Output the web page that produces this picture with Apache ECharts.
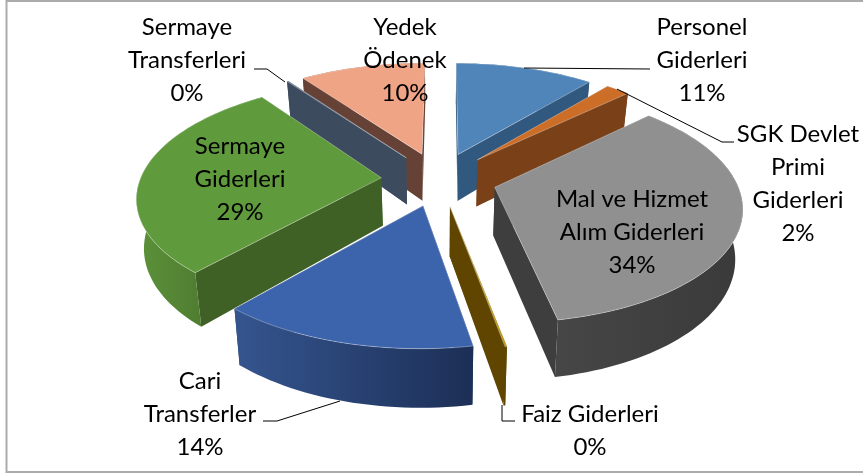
<!DOCTYPE html>
<html>
<head>
<meta charset="utf-8">
<style>
  html, body { margin: 0; padding: 0; background: #fff; }
  #chart { width: 863px; height: 474px; }
</style>
<script src="https://cdn.jsdelivr.net/npm/echarts@6/dist/echarts.min.js"></script>
</head>
<body>
<div id="chart"></div>
<script>
// slices, clockwise from the first slice angle
const categories = ['Personel\nGiderleri', 'SGK Devlet\nPrimi\nGiderleri', 'Mal ve Hizmet\nAlım Giderleri', 'Faiz Giderleri', 'Cari\nTransferler', 'Sermaye\nGiderleri', 'Sermaye\nTransferleri', 'Yedek\nÖdenek'];
const values = [11, 1.9, 34.4, 0.1, 14.4, 28.8, 0.1, 10];

const topColors = ['#5085BA', '#CC6D28', '#909090', '#B98C00', '#3C64AC', '#5F9A3C', '#4A5D75', '#F0A486'];
const wallColors = ['#31587E', '#7A4118', '#3E3E3E', '#5F4500', '#1D3058', '#3F6126', '#3D4B5E', '#654235'];
const outerColors = [['#31587E', '#31587E'], ['#7A4118', '#7A4118'], ['#464646', '#3A3A3A'], ['#5F4500', '#5F4500'], ['#35558F', '#1C2F56'], ['#5C9239', '#44692A'], ['#3D4B5E', '#3D4B5E'], ['#654235', '#654235']];

// label centre x, first line centre y
const labelPos = [[702, 27], [798, 134], [632, 199], [590, 414], [200, 381], [240, 146], [187, 27], [405, 27]];
const lineHeight = 33;

const leaders = [
  [[524, 68], [650, 69]],
  [[617, 89], [722, 142], [734, 142]],
  [[502, 405], [502, 421], [515, 421]],
  [[340, 401], [277, 421], [263, 421]],
  [[254, 69], [267, 69], [285, 82]]
];

// projection of the tilted pie
const cx = 439, cy = 179;
const rx = 241, ry = 112;
const persp = 0.152;
const explode = 0.24;
const depth = 48;
const bottomShrink = 0.975;
const firstAngle = 0.2 * Math.PI / 180;

const total = values.reduce((a, b) => a + b, 0);

function project(X, Y, down) {
  const s = 1 / (1 - persp * Y);
  let x = cx + rx * X * s;
  let y = cy + ry * Y * s;
  if (down) {
    x = cx + (x - cx) * bottomShrink;
    y += depth * s;
  }
  return [x, y];
}

const slices = [];
let acc = 0;
values.forEach(function (v) {
  const a0 = firstAngle + acc / total * Math.PI * 2;
  acc += v;
  const a1 = firstAngle + acc / total * Math.PI * 2;
  const mid = (a0 + a1) / 2;
  slices.push({a0: a0, a1: a1, ox: explode * Math.sin(mid), oy: -explode * Math.cos(mid)});
});
const order = slices.map(function (s, i) { return i; }).sort(function (a, b) { return slices[a].oy - slices[b].oy; });

function arcPoints(s, down) {
  const n = Math.max(2, Math.ceil((s.a1 - s.a0) / 0.03));
  const pts = [];
  for (let k = 0; k <= n; k++) {
    const t = s.a0 + (s.a1 - s.a0) * k / n;
    pts.push(project(s.ox + Math.sin(t), s.oy - Math.cos(t), down));
  }
  return pts;
}

function renderSlice(params, api) {
  const i = api.value(0);
  const s = slices[i];
  const base = order.indexOf(i) * 10;
  const top = arcPoints(s, false);
  const bottom = arcPoints(s, true);
  const apexT = project(s.ox, s.oy, false);
  const apexB = project(s.ox, s.oy, true);
  const wall = function (k) {
    return {type: 'polygon', z2: base + 1, shape: {points: [apexT, top[k], bottom[k], apexB]}, style: {fill: wallColors[i]}};
  };
  const xs = top.map(function (p) { return p[0]; });
  const outer = {
    type: 'polygon',
    z2: base + 2,
    shape: {points: top.concat(bottom.slice().reverse())},
    style: {
      fill: {
        type: 'linear', x: Math.min.apply(null, xs), y: 0, x2: Math.max.apply(null, xs), y2: 0, global: true,
        colorStops: [{offset: 0, color: outerColors[i][0]}, {offset: 1, color: outerColors[i][1]}]
      }
    }
  };
  const face = {
    type: 'polygon',
    z2: base + 3,
    shape: {points: [apexT].concat(top)},
    style: {fill: topColors[i], stroke: 'rgba(255,255,255,0.55)', lineWidth: 0.6}
  };
  const pct = Math.round(values[i] / total * 100) + '%';
  const label = {
    type: 'text',
    z2: 1000,
    style: {
      text: categories[i] + '\n' + pct,
      x: labelPos[i][0],
      y: labelPos[i][1] - lineHeight / 2,
      align: 'center',
      verticalAlign: 'top',
      fontFamily: 'Lato',
      fontSize: 24,
      lineHeight: lineHeight,
      fill: '#000'
    }
  };
  return {type: 'group', children: [wall(0), wall(top.length - 1), outer, face, label]};
}

const chart = echarts.init(document.getElementById('chart'), null, {renderer: 'canvas'});
chart.setOption({
  animation: false,
  backgroundColor: '#fff',
  graphic: [
    {type: 'rect', z: 0, shape: {x: 6.5, y: 1, width: 870, height: 471}, style: {fill: 'none', stroke: '#ABABAB', lineWidth: 2}}
  ].concat(leaders.map(function (pts) {
    return {type: 'polyline', z: 10, shape: {points: pts}, style: {fill: 'none', stroke: '#000', lineWidth: 1}};
  })),
  series: [{
    type: 'custom',
    coordinateSystem: 'none',
    renderItem: renderSlice,
    z: 5,
    data: values.map(function (v, i) { return [i, v]; })
  }]
});
</script>
</body>
</html>
